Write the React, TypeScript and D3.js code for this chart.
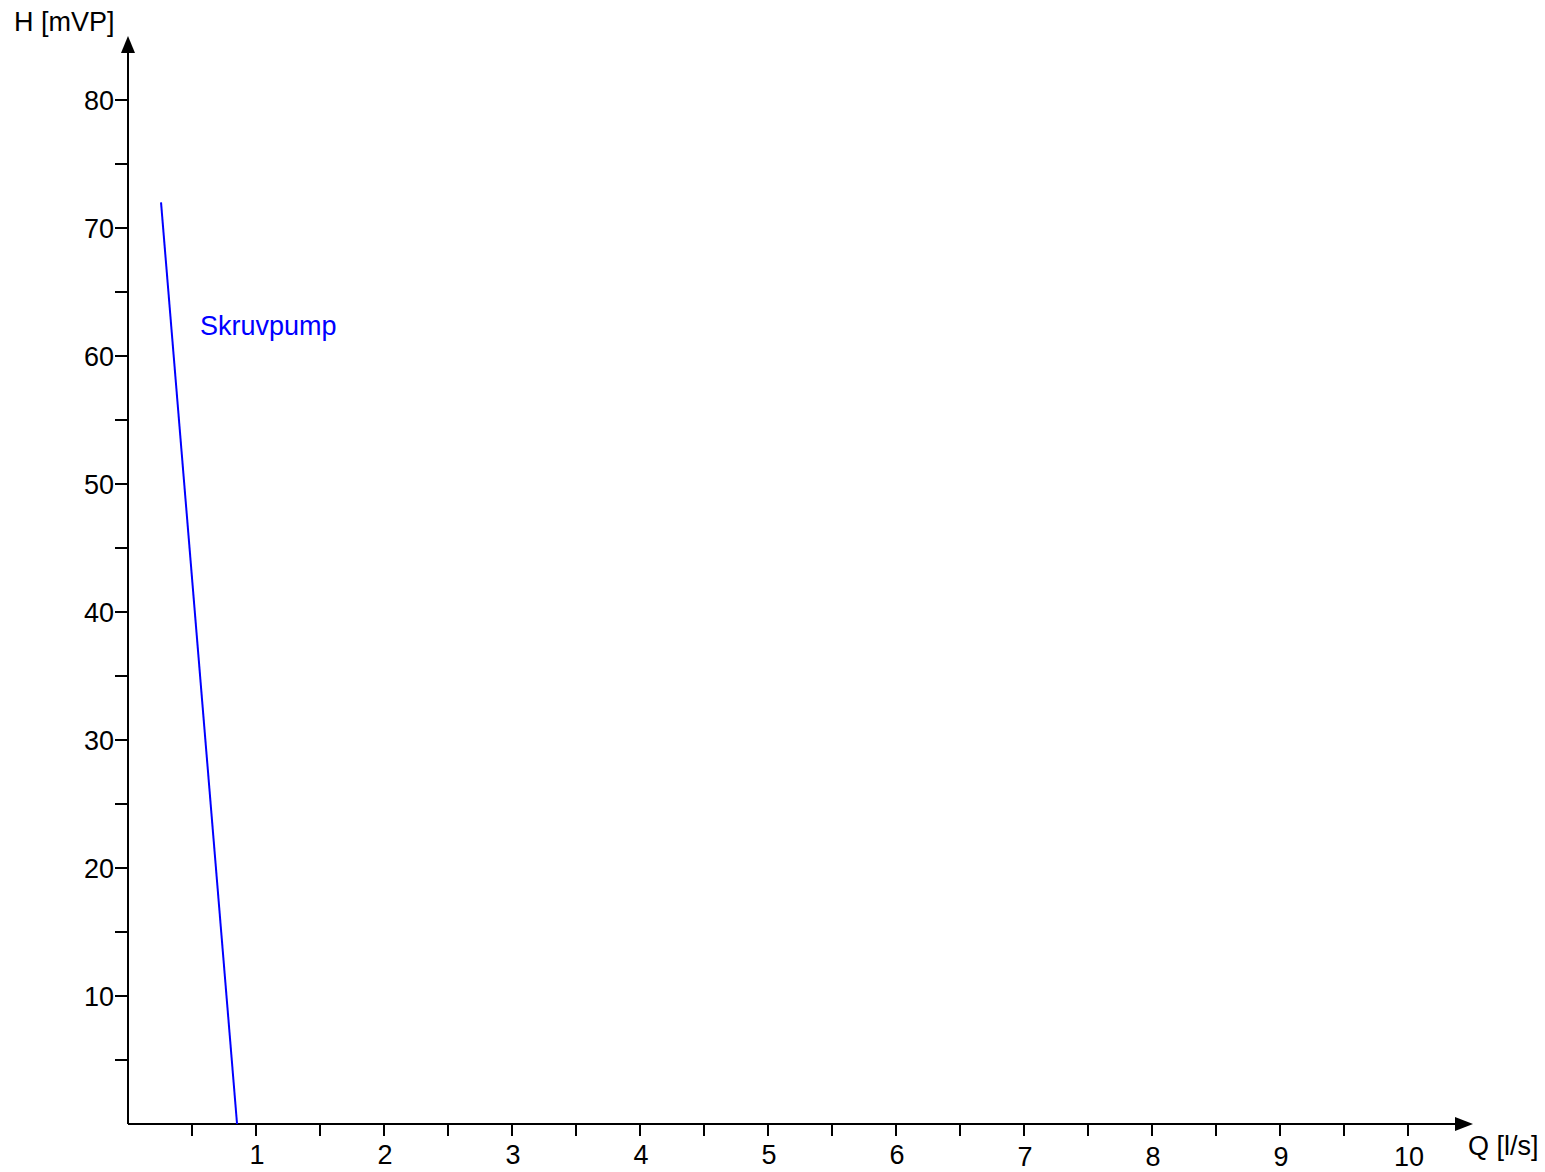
import React from "react";
import * as d3 from "d3";

const xTicksMajor = [1, 2, 3, 4, 5, 6, 7, 8, 9, 10];
const xTicksMinor = [0.5, 1.5, 2.5, 3.5, 4.5, 5.5, 6.5, 7.5, 8.5, 9.5];
const yTicksMajor = [10, 20, 30, 40, 50, 60, 70, 80];
const yTicksMinor = [5, 15, 25, 35, 45, 55, 65, 75];
const curveQ = [0.258, 0.852];
const curveH = [72, 0];
const seriesName = "Skruvpump";
const xTitle = "Q [l/s]";
const yTitle = "H [mVP]";

export default function App() {
  const W = 1545, H = 1172;
  const x = d3.scaleLinear().domain([0, 10]).range([128, 1408]);
  const y = d3.scaleLinear().domain([0, 80]).range([1124, 100]);
  const pts = curveQ.map((q, i) => [q, curveH[i]] as [number, number]);
  const line = d3.line<[number, number]>().x(d => x(d[0])).y(d => y(d[1]));
  const font = "Liberation Sans, Arial, sans-serif";
  const fs = 27;
  const x0 = x(0), y0 = y(0);
  return (
    <svg width={W} height={H} style={{ position: "absolute", left: 0, top: 0, background: "#fff" }}
      fontFamily={font}>
      <rect width={W} height={H} fill="#fff" />
      <line x1={x0} y1={y0} x2={1460} y2={y0} stroke="#000" strokeWidth={2} />
      <line x1={x0} y1={y0} x2={x0} y2={48} stroke="#000" strokeWidth={2} />
      <path d={`M1473,${y0} L1455,${y0 - 7} L1455,${y0 + 7} Z`} fill="#000" />
      <path d={`M${x0},36 L${x0 - 7},53 L${x0 + 7},53 Z`} fill="#000" />
      {xTicksMajor.concat(xTicksMinor).map(t => (
        <line key={"xt" + t} x1={x(t)} x2={x(t)} y1={y0} y2={y0 + 12} stroke="#000" strokeWidth={2} />
      ))}
      {yTicksMajor.concat(yTicksMinor).map(t => (
        <line key={"yt" + t} x1={x0} x2={x0 - 13} y1={y(t)} y2={y(t)} stroke="#000" strokeWidth={2} />
      ))}
      {xTicksMajor.map(t => (
        <text key={"xl" + t} x={x(t) + 1} y={t >= 7 ? 1166 : 1164} textAnchor="middle" fontSize={fs}>{t}</text>
      ))}
      {yTicksMajor.map(t => (
        <text key={"yl" + t} x={114} y={y(t) + 10} textAnchor="end" fontSize={fs}>{t}</text>
      ))}
      <text x={14} y={31} fontSize={fs}>{yTitle}</text>
      <text x={1468} y={1155} fontSize={fs}>{xTitle}</text>
      <path d={line(pts) || ""} fill="none" stroke="#0000ff" strokeWidth={2} />
      <text x={200} y={335} fontSize={fs} fill="#0000ff">{seriesName}</text>
    </svg>
  );
}
